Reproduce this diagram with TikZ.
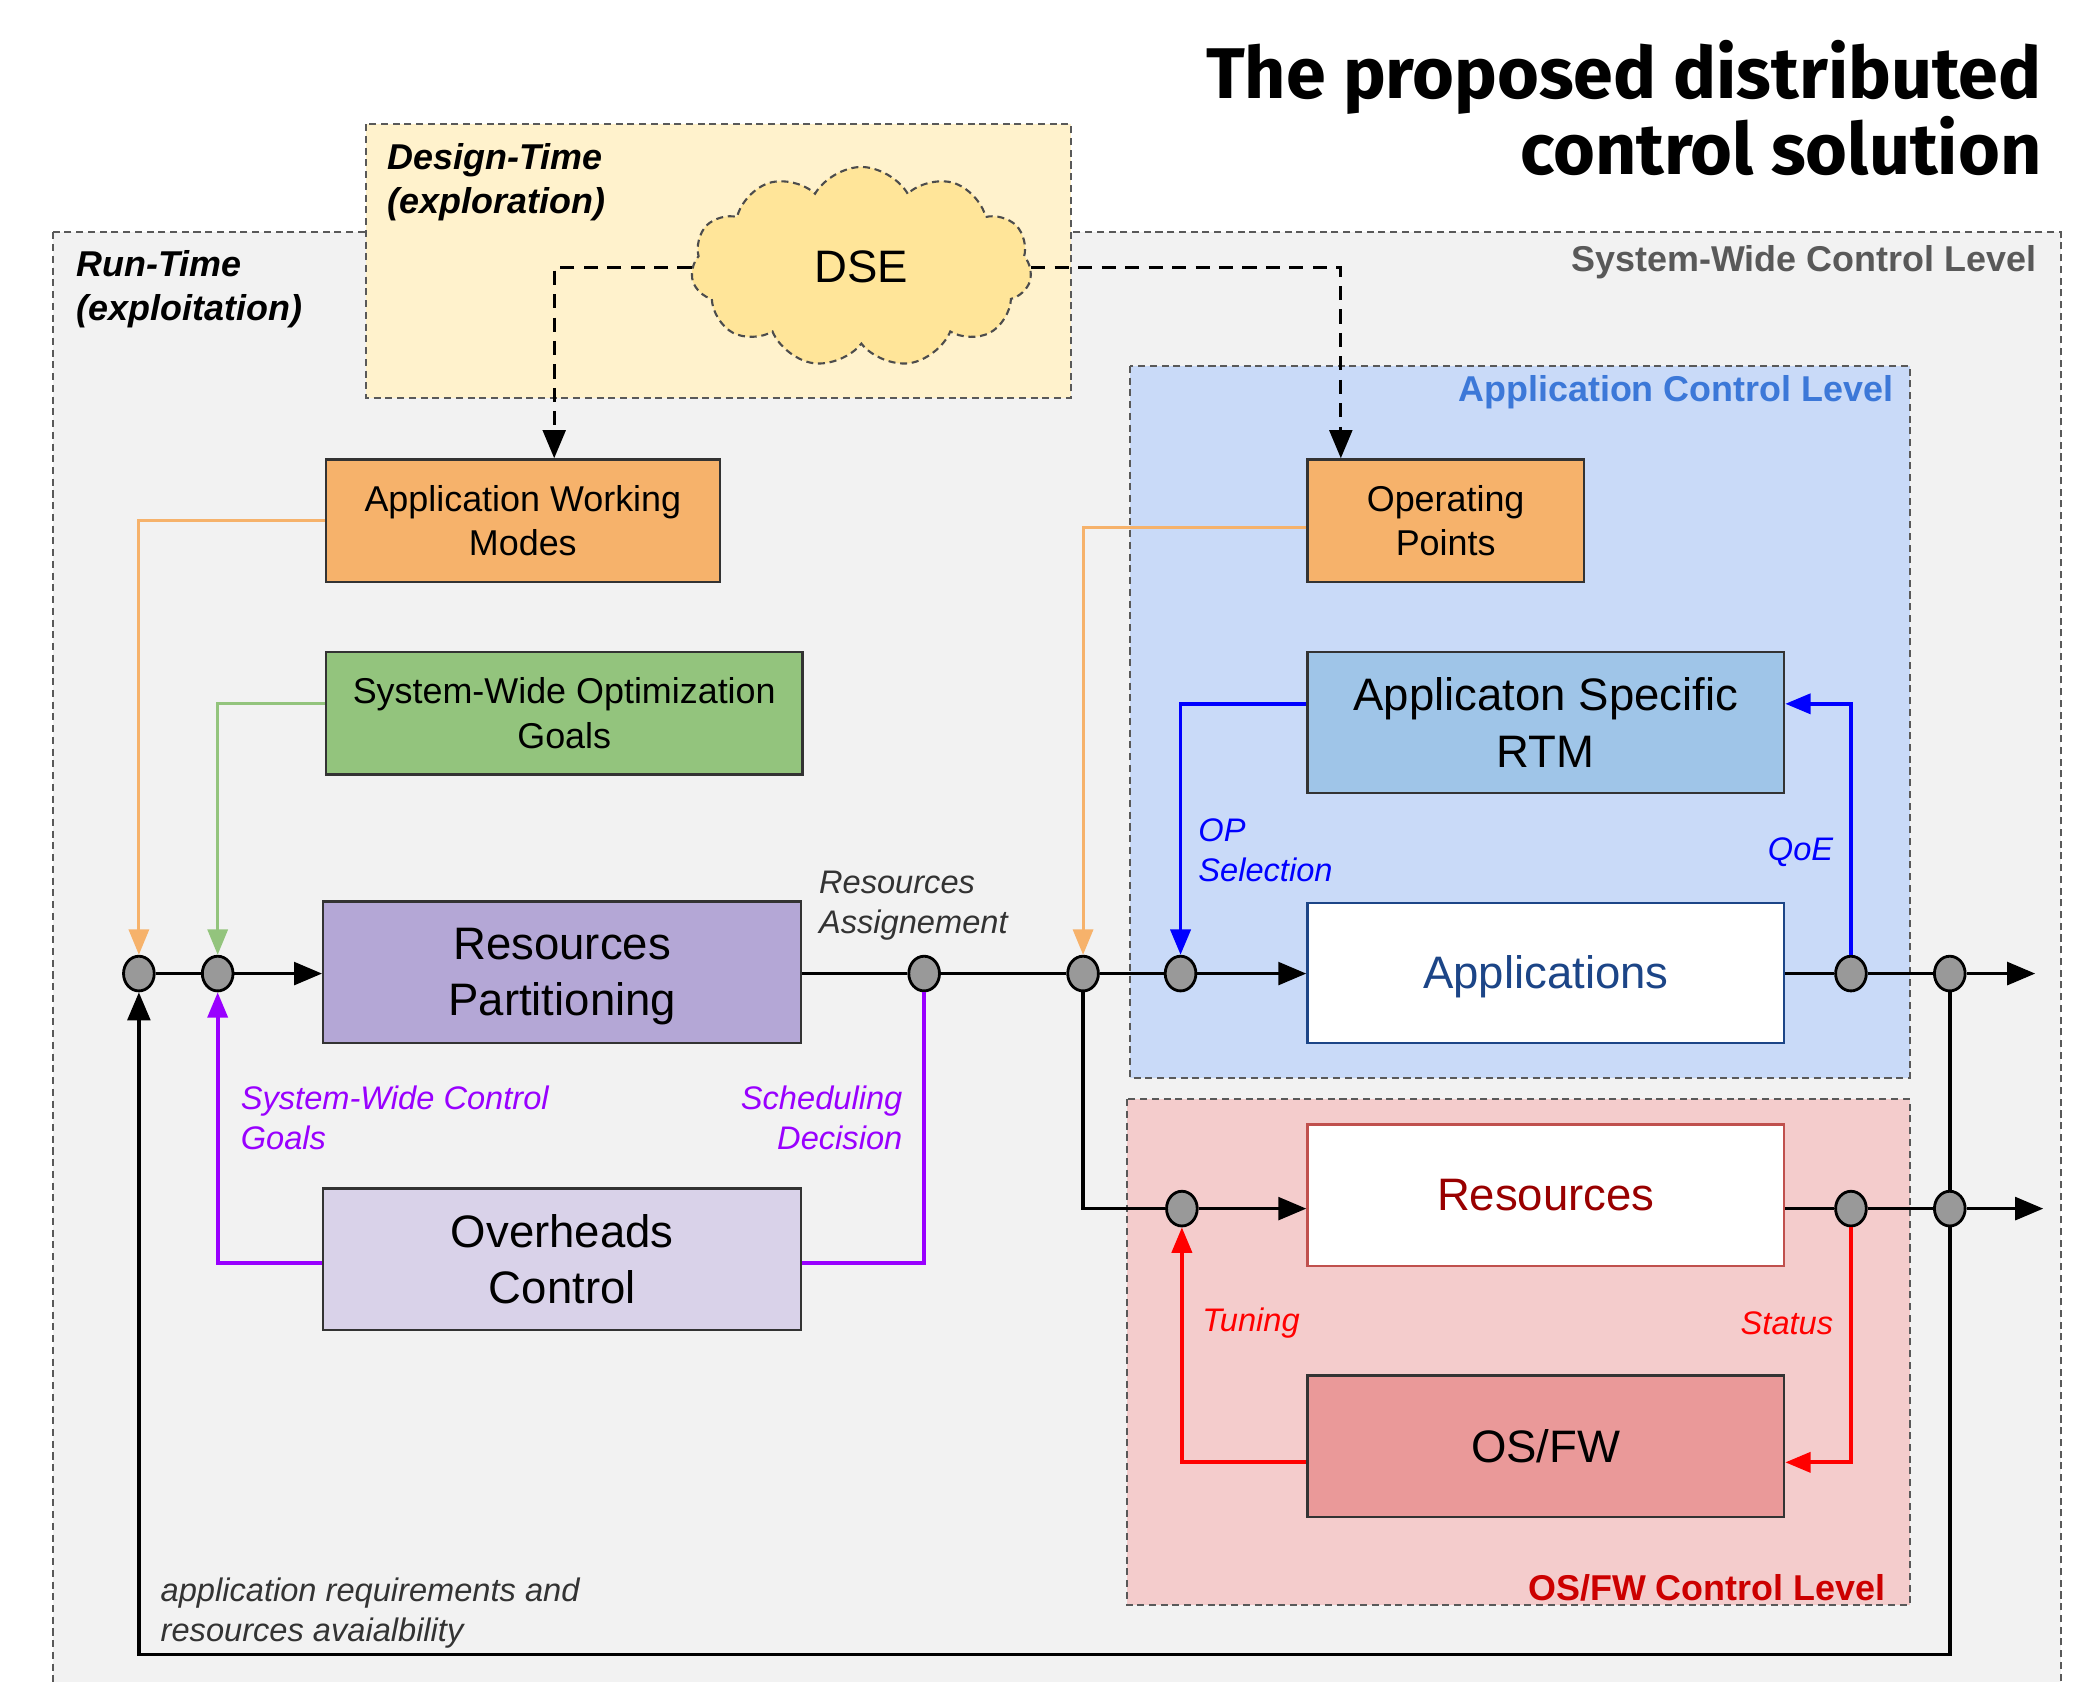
\documentclass[tikz,border=0pt]{standalone}
\usepackage{fontspec}
\setmainfont{Liberation Sans}
\newfontfamily\titlefont{Fira Sans}
\usetikzlibrary{arrows.meta,shapes.geometric,shapes.symbols,calc}
\definecolor{sysbg}{HTML}{F2F2F2}
\definecolor{designbg}{HTML}{FFF2CC}
\definecolor{cloudc}{HTML}{FFE599}
\definecolor{appbg}{HTML}{C9DAF8}
\definecolor{osbg}{HTML}{F4CCCC}
\definecolor{orangec}{HTML}{F6B26B}
\definecolor{greenc}{HTML}{93C47D}
\definecolor{rpc}{HTML}{B4A7D6}
\definecolor{occ}{HTML}{D9D2E9}
\definecolor{rtmc}{HTML}{9FC5E8}
\definecolor{osfwc}{HTML}{EA9999}
\definecolor{purplec}{HTML}{9900FF}
\definecolor{bluec}{HTML}{0000FF}
\definecolor{redc}{HTML}{FF0000}
\definecolor{applab}{HTML}{3C78D8}
\definecolor{oslab}{HTML}{CC0000}
\definecolor{apptxt}{HTML}{1C4587}
\definecolor{restxt}{HTML}{990000}
\definecolor{resbrd}{HTML}{C0504D}
\definecolor{juncc}{HTML}{999999}
\definecolor{syslab}{HTML}{595959}
\definecolor{lbltxt}{HTML}{333333}
\begin{document}
\begin{tikzpicture}[x=0.02cm,y=-0.02cm,
  container/.style={draw=black!65, dash pattern=on 3pt off 2pt, line width=0.9pt},
  blk/.style={draw=black!80, line width=1pt, inner sep=0pt, align=center, font=\fontsize{15.3}{18.8}\selectfont},
  bigblk/.style={blk, font=\fontsize{19.4}{23.9}\selectfont},
  junc/.style={ellipse, draw=black, fill=juncc, line width=1.2pt, minimum width=0.46cm, minimum height=0.52cm, inner sep=0pt},
  flow/.style={draw=black, line width=1.5pt},
  arr/.style={-{Triangle[length=0.42cm,width=0.34cm]}},
  carr/.style={-{Triangle[length=0.38cm,width=0.3cm]}},
  dsh/.style={draw=black, line width=1.2pt, dash pattern=on 6pt off 4pt},
  orl/.style={draw=orangec, line width=1.3pt},
  grl/.style={draw=greenc, line width=1.3pt},
  pul/.style={draw=purplec, line width=1.6pt},
  bll/.style={draw=bluec, line width=1.6pt},
  rel/.style={draw=redc, line width=1.6pt},
  lbl/.style={inner sep=0pt, font=\fontsize{13.9}{17}\selectfont\itshape, align=left},
  hdr/.style={inner sep=0pt, font=\fontsize{15.3}{18.8}\selectfont\bfseries},
  ttl/.style={inner sep=0pt, font=\fontsize{30.6}{32}\selectfont\titlefont\bfseries}
]
\useasboundingbox (0,0) rectangle (1568,1259);
\clip (0,0) rectangle (1568,1259);
\fill[white] (0,0) rectangle (1568,1259);

% title
\node[ttl, anchor=base east] (title1) at (1529,73.6) {The proposed distributed};
\node[ttl, anchor=base east] (title2) at (1529,131) {control solution};

% containers
\filldraw[container, fill=sysbg] (40,174) rectangle (1543,1300);
\filldraw[container, fill=designbg] (274,93) rectangle (802,298);
\filldraw[container, fill=appbg] (846,274) rectangle (1430,807);
\filldraw[container, fill=osbg] (844,823) rectangle (1430,1202);

% container labels
\node[hdr, font=\fontsize{15.3}{18.8}\selectfont\bfseries\itshape, anchor=north west, align=left] (dtl) at (290,107) {Design-Time\\(exploration)};
\node[hdr, font=\fontsize{15.3}{18.8}\selectfont\bfseries\itshape, anchor=north west, align=left] (rtl) at (57,187) {Run-Time\\(exploitation)};
\node[hdr, text=syslab, anchor=east] (swl) at (1525,196) {System-Wide Control Level};
\node[hdr, text=applab, anchor=east] (acl) at (1418,294) {Application Control Level};
\node[hdr, text=oslab, anchor=east] (ocl) at (1412,1189) {OS/FW Control Level};

% cloud
\node[cloud, cloud puffs=11, cloud puff arc=120, aspect=1.7, draw=black!70, dash pattern=on 3pt off 2pt, line width=0.9pt, fill=cloudc, minimum width=5.1cm, minimum height=3cm, inner sep=0pt, font=\fontsize{19.4}{23.9}\selectfont] (DSE) at (645,200) {DSE};

% blocks
\node[blk, fill=orangec, minimum width=5.9cm, minimum height=1.84cm] (AWM) at (391.5,390) {Application Working\\Modes};
\node[blk, fill=orangec, minimum width=4.14cm, minimum height=1.84cm] (OP) at (1082.5,390) {Operating\\Points};
\node[blk, fill=greenc, minimum width=7.14cm, minimum height=1.84cm] (SWOG) at (422.5,534) {System-Wide Optimization\\Goals};
\node[bigblk, fill=rpc, minimum width=7.16cm, minimum height=2.12cm] (RP) at (421,728) {\rule{0pt}{17pt}Resources\\Partitioning};
\node[bigblk, fill=occ, minimum width=7.16cm, minimum height=2.12cm] (OC) at (421,943) {Overheads\\Control};
\node[bigblk, fill=rtmc, minimum width=7.14cm, minimum height=2.12cm] (RTM) at (1157.5,541) {Applicaton Specific\\RTM};
\node[bigblk, fill=white, draw=apptxt, text=apptxt, minimum width=7.14cm, minimum height=2.1cm] (APP) at (1157.5,728.5) {\rule{0pt}{17pt}Applications};
\node[bigblk, fill=white, draw=resbrd, text=restxt, minimum width=7.14cm, minimum height=2.12cm] (RES) at (1157.5,895) {Resources};
\node[bigblk, fill=osfwc, minimum width=7.14cm, minimum height=2.12cm] (OSFW) at (1157.5,1083) {OS/FW};

% junctions
\node[junc] (j1) at (104,729) {};
\node[junc] (j2) at (163,729) {};
\node[junc] (j3) at (692,729) {};
\node[junc] (j4) at (811,729) {};
\node[junc] (j5) at (884,729) {};
\node[junc] (j6) at (1386,729) {};
\node[junc] (j7) at (1460,729) {};
\node[junc] (k1) at (885,905) {};
\node[junc] (k2) at (1386,905) {};
\node[junc] (k3) at (1460,905) {};
\coordinate (outA) at (1524,729);
\coordinate (outB) at (1530,905);

% dashed design-time arrows
\draw[dsh, arr] (DSE.west) -| ([xshift=0.47cm]AWM.north);
\draw[dsh, arr] (DSE.east) -| ([xshift=-1.57cm]OP.north);

% main flow
\draw[flow] (j1) -- (j2);
\draw[flow, arr] (j2) -- (RP.west |- j2);
\draw[flow] (RP.east |- j3) -- (j3) -- (j4) -- (j5);
\draw[flow, arr] (j5) -- (APP.west |- j5);
\draw[flow] (APP.east |- j6) -- (j6) -- (j7);
\draw[flow, arr] (j7) -- (outA);
\draw[flow] (j4.south) |- (k1.west);
\draw[flow, arr] (k1) -- (RES.west |- k1);
\draw[flow] (RES.east |- k2) -- (k2) -- (k3);
\draw[flow, arr] (k3) -- (outB);
\draw[flow] (j7.south) -- (k3.north);
\draw[flow, arr] (k3.south) -- ++(0,320) -| (j1.south);

% orange / green
\draw[orl, carr] (AWM.west) -| (j1.north);
\draw[orl, carr] ([yshift=-0.1cm]OP.west) -| (j4.north);
\draw[grl, carr] ([yshift=0.14cm]SWOG.west) -| (j2.north);

% purple
\draw[pul, carr] ([yshift=-0.06cm]OC.west) -| (j2.south);
\draw[pul] ([yshift=-0.06cm]OC.east) -| (j3.south);

% blue
\draw[bll, carr] ([yshift=0.28cm]RTM.west) -| (j5.north);
\draw[bll, carr] (j6.north) |- ([yshift=0.28cm]RTM.east);

% red
\draw[rel, carr] ([yshift=-0.24cm]OSFW.west) -| (k1.south);
\draw[rel, carr] (k2.south) |- ([yshift=-0.24cm]OSFW.east);

% labels
\node[lbl, text=lbltxt, anchor=north west] (lra) at (613,652) {Resources\\Assignement};
\node[lbl, text=purplec, anchor=north west] (lswc) at (180,813) {System-Wide Control\\Goals};
\node[lbl, text=purplec, anchor=north east, align=right] (lsd) at (676,813) {Scheduling\\Decision};
\node[lbl, text=bluec, anchor=north west] (lop) at (897,613) {OP\\Selection};
\node[lbl, text=bluec, anchor=east] (lqoe) at (1373,638) {QoE};
\node[lbl, text=redc, anchor=west] (ltun) at (900,991) {Tuning};
\node[lbl, text=redc, anchor=east] (lsta) at (1373,991) {Status};
\node[lbl, text=lbltxt, anchor=north west] (lreq) at (120,1181) {application requirements and\\resources avaialbility};
\end{tikzpicture}
\end{document}
